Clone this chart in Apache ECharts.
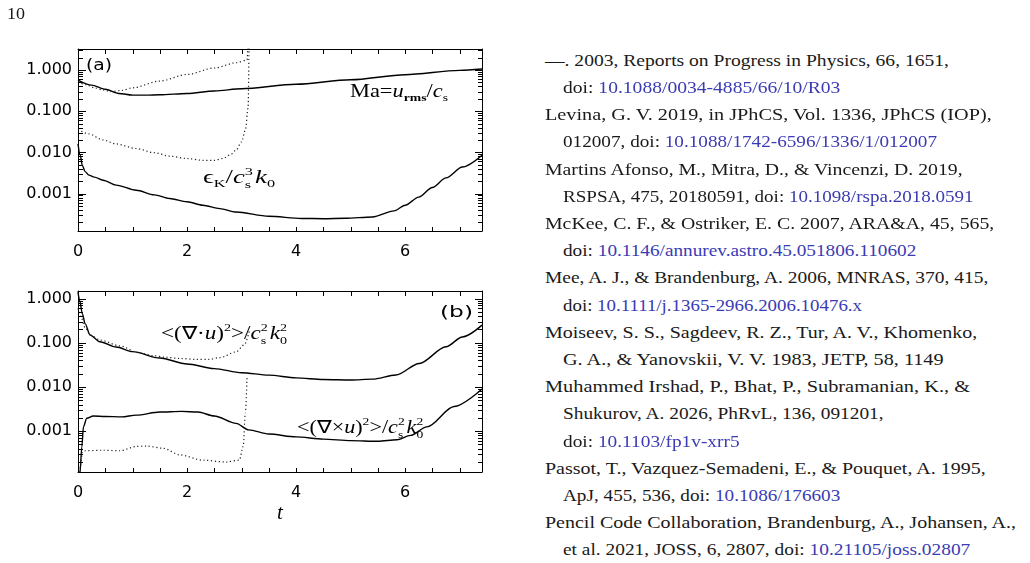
<!DOCTYPE html>
<html>
<head>
<meta charset="utf-8">
<script src="https://cdn.jsdelivr.net/npm/echarts@6/dist/echarts.min.js"></script>
<style>
  body { margin: 0; background: #fff; }
  #page { position: relative; width: 1030px; height: 563px; overflow: hidden; background: #fff; }
  #chart { position: absolute; left: 0; top: 0; width: 500px; height: 563px; }
  .tk { position: absolute; background: #000; z-index: 3; }
  .fit { position: absolute; white-space: nowrap; transform-origin: 0 50%; line-height: 20px; height: 20px; }
  .ref { font-family: "Liberation Serif", serif; font-size: 17px; color: #1a1a1a; }
  .ref .doi { color: #3b3bb3; }
  .lab { font-family: "DejaVu Sans", sans-serif; font-size: 16px; color: #000; }
  .math { font-family: "Liberation Serif", serif; font-size: 18px; color: #000; }
  .math sub { font-size: 11px; line-height: 0; vertical-align: -4px; }
  .math sup { font-size: 11px; line-height: 0; vertical-align: 8px; }
  .math b { font-weight: bold; }
  .ss { display: inline-block; position: relative; width: 7px; height: 0; }
  .ss span { position: absolute; left: 0; font-size: 11px; line-height: 11px; }
  .ss .p { top: -17px; }
  .ss .b { top: -4px; }
</style>
</head>
<body>
<div id="page">
  <div id="chart"></div>
  <div class="fit ref" style="left:7px; top:4px;" data-w="18">10</div>

  <div class="fit lab" style="left:86px; top:55px;" data-w="26">(a)</div>
  <div class="fit math" style="left:350px; top:81px;" data-w="98">Ma=<i>u</i><sub><b>rms</b></sub>/<i>c</i><sub>s</sub></div>
  <div class="fit math" style="left:203px; top:167px;" data-w="72">ϵ<sub>K</sub>/<i>c</i><span class="ss"><span class="p">3</span><span class="b">s</span></span><i>k</i><sub>0</sub></div>

  <div class="fit lab" style="left:440px; top:302px;" data-w="33">(b)</div>
  <div class="fit math" style="left:161px; top:323px;" data-w="128">&lt;(∇·<i>u</i>)<sup>2</sup>&gt;/<i>c</i><span class="ss"><span class="p">2</span><span class="b">s</span></span><i>k</i><span class="ss"><span class="p">2</span><span class="b">0</span></span></div>
  <div class="fit math" style="left:297px; top:417px;" data-w="128">&lt;(∇×<i>u</i>)<sup>2</sup>&gt;/<i>c</i><span class="ss"><span class="p">2</span><span class="b">s</span></span><i>k</i><span class="ss"><span class="p">2</span><span class="b">0</span></span></div>
</div>
<script>
// panel (a): Mach number and kinetic dissipation, solid = run 1, dotted = run 2
const maT = [0, 0.25, 0.5, 0.75, 1.0, 1.25, 1.5, 2.0, 2.5, 3.0, 4.0, 5.0, 6.0, 7.0, 7.41];
const maV = [0.57, 0.43, 0.34, 0.27, 0.246, 0.245, 0.25, 0.27, 0.31, 0.35, 0.45, 0.58, 0.77, 0.98, 1.06];
const maDotT = [0, 0.15, 0.3, 0.45, 0.6, 0.8, 1.0, 1.5, 2.0, 2.5, 2.9, 3.1, 3.13];
const maDotV = [0.52, 0.44, 0.37, 0.33, 0.30, 0.32, 0.37, 0.54, 0.78, 1.12, 1.5, 1.75, 10];
const epsT = [0, 0.04, 0.08, 0.13, 0.2, 0.3, 0.46, 0.7, 1.07, 1.4, 1.68, 2.0, 2.29, 2.6, 2.9, 3.5, 4.1, 4.5, 4.9, 5.4, 5.8, 6.0, 6.25, 6.5, 6.75, 7.05, 7.41];
const epsV = [0.016, 0.0085, 0.0048, 0.0034, 0.0028, 0.0025, 0.0021, 0.0016, 0.0012, 0.00093, 0.00076, 0.00063, 0.00052, 0.00043, 0.000355, 0.00028, 0.000248, 0.000245, 0.00025, 0.00027, 0.00038, 0.00052, 0.00082, 0.0014, 0.0024, 0.0044, 0.0085];
const epsDotT = [0, 0.2, 0.46, 0.7, 1.07, 1.4, 1.68, 2.0, 2.29, 2.5, 2.66, 2.8, 2.9, 3.0, 3.07, 3.12, 3.14];
const epsDotV = [0.036, 0.028, 0.02, 0.016, 0.0124, 0.0098, 0.0081, 0.0071, 0.0064, 0.0064, 0.0071, 0.0088, 0.0113, 0.018, 0.035, 0.12, 10];

// panel (b): divergence and vorticity
const divT = [0, 0.03, 0.08, 0.13, 0.22, 0.4, 0.7, 1.0, 1.5, 2.0, 2.5, 3.0, 3.5, 4.0, 4.5, 5.0, 5.4, 5.83, 6.26, 6.75, 7.05, 7.41];
const divV = [1.4, 0.9, 0.45, 0.27, 0.15, 0.105, 0.08, 0.063, 0.045, 0.033, 0.026, 0.021, 0.0185, 0.016, 0.0147, 0.0143, 0.015, 0.0186, 0.034, 0.081, 0.135, 0.25];
const divDotT = [0, 0.05, 0.13, 0.22, 0.4, 0.77, 1.1, 1.38, 1.6, 1.87, 2.17, 2.4, 2.6, 2.9, 3.05, 3.15];
const divDotV = [0.6, 0.4, 0.22, 0.15, 0.115, 0.085, 0.06, 0.051, 0.047, 0.044, 0.042, 0.042, 0.046, 0.062, 0.09, 0.2];
const curlT = [0, 0.035, 0.07, 0.1, 0.16, 0.28, 0.5, 0.8, 1.07, 1.5, 1.9, 2.2, 2.5, 2.9, 3.13, 3.5, 4.0, 4.5, 5.0, 5.5, 5.85, 6.1, 6.4, 6.9, 7.41];
const curlV = [0.00002, 0.00011, 0.00044, 0.00126, 0.00195, 0.0022, 0.00215, 0.0021, 0.0023, 0.0027, 0.0028, 0.0027, 0.0022, 0.0015, 0.00107, 0.00086, 0.00074, 0.00066, 0.00061, 0.00059, 0.00064, 0.0008, 0.00125, 0.0036, 0.009];
const curlDotT = [0, 0.04, 0.08, 0.12, 0.46, 0.77, 1.07, 1.25, 1.56, 1.87, 2.29, 2.72, 2.96, 3.03, 3.07, 3.1];
const curlDotV = [0.00002, 0.00015, 0.00033, 0.00036, 0.00037, 0.00036, 0.00045, 0.00046, 0.00041, 0.00029, 0.00022, 0.0002, 0.00022, 0.00045, 0.0026, 0.016];

const tMax = 7.41;
const tLabels = [0, 2, 4, 6];
const decades = [0.001, 0.01, 0.1, 1];
const rangeA = [1.23e-4, 3.24];
const rangeB = [1.19e-4, 1.48];

// tick positions for the IDL style frame
let tTicks = [];
for (let t = 0; t <= 7; t += 0.5) tTicks.push(t);
let minors = [];
for (let e = -4; e <= 0; e++) {
  for (let m = 2; m <= 9; m++) minors.push(+(m * Math.pow(10, e)).toPrecision(3));
}

const ink = '#000';
const font = 'DejaVu Sans';
const gridA = { left: 78, top: 49, width: 404, height: 182 };
const gridB = { left: 78, top: 291, width: 404, height: 181 };

function xAxes(grid, name) {
  let base = {
    gridIndex: grid, type: 'value', min: 0, max: tMax,
    splitLine: { show: false },
    axisLine: { show: true, onZero: false, lineStyle: { color: ink, width: 1 } },
    axisTick: { show: false }
  };
  let bottom = Object.assign({}, base, {
    position: 'bottom',
    axisLabel: { show: true, customValues: tLabels, margin: 13, fontFamily: font, fontSize: 16, color: ink }
  });
  if (name) {
    bottom.name = name;
    bottom.nameLocation = 'middle';
    bottom.nameGap = 31;
    bottom.nameTextStyle = { fontFamily: 'Liberation Serif', fontStyle: 'italic', fontSize: 21, color: ink };
  }
  let top = Object.assign({}, base, { position: 'top', axisLabel: { show: false } });
  return [bottom, top];
}

function yAxes(grid, range) {
  let base = {
    gridIndex: grid, type: 'log', logBase: 10, min: range[0], max: range[1],
    splitLine: { show: false },
    axisLine: { show: true, onZero: false, lineStyle: { color: ink, width: 1 } },
    axisTick: { show: false }
  };
  return [
    Object.assign({}, base, {
      position: 'left',
      axisLabel: {
        show: true, customValues: decades, margin: 6, fontFamily: font, fontSize: 16, color: ink,
        formatter: v => v.toFixed(3)
      }
    }),
    Object.assign({}, base, { position: 'right', axisLabel: { show: false } })
  ];
}

function pairs(ts, vs) {
  return ts.map((t, i) => [t, vs[i]]);
}

function curve(ts, vs, xi, yi, dotted) {
  return {
    type: 'line', xAxisIndex: xi, yAxisIndex: yi,
    data: pairs(ts, vs),
    showSymbol: false, smooth: 0.3, smoothMonotone: 'x',
    lineStyle: dotted ? { color: '#222', width: 1.2, type: [1.2, 2.6] } : { color: ink, width: 1.4 },
    silent: true
  };
}

const chart = echarts.init(document.getElementById('chart'));
chart.setOption({
  animation: false,
  grid: [gridA, gridB],
  xAxis: xAxes(0).concat(xAxes(1, 't')),
  yAxis: yAxes(0, rangeA).concat(yAxes(1, rangeB)),
  series: [
    curve(maT, maV, 0, 0, false),
    curve(maDotT, maDotV, 0, 0, true),
    curve(epsT, epsV, 0, 0, false),
    curve(epsDotT, epsDotV, 0, 0, true),
    curve(divT, divV, 2, 2, false),
    curve(divDotT, divDotV, 2, 2, true),
    curve(curlT, curlV, 2, 2, false),
    curve(curlDotT, curlDotV, 2, 2, true)
  ]
});

const page = document.getElementById('page');

// inward ticks on all four sides of a panel
function tick(x, y, w, h) {
  let d = document.createElement('div');
  d.className = 'tk';
  d.style.left = x + 'px';
  d.style.top = y + 'px';
  d.style.width = w + 'px';
  d.style.height = h + 'px';
  page.appendChild(d);
}

function pixelFn(xi, yi, grid, range) {
  let span = Math.log10(range[1] / range[0]);
  return (x, y) => {
    let p = null;
    try { p = chart.convertToPixel({ xAxisIndex: xi, yAxisIndex: yi }, [x, y]); } catch (e) { p = null; }
    if (p && isFinite(p[0]) && isFinite(p[1])) return p;
    // same mapping as the axes if the conversion is unavailable
    return [grid.left + x / tMax * grid.width,
            grid.top + grid.height * Math.log10(range[1] / y) / span];
  };
}

function frameTicks(xi, yi, grid, range) {
  let px = pixelFn(xi, yi, grid, range);
  let xL = grid.left, xR = grid.left + grid.width;
  let yT = grid.top, yB = grid.top + grid.height;
  tTicks.forEach(t => {
    let x = Math.round(px(t, 1)[0]);
    tick(x, yB - 4, 1, 5);
    tick(x, yT, 1, 5);
  });
  let addY = (vals, len) => vals.filter(v => v > range[0] && v < range[1]).forEach(v => {
    let y = Math.round(px(0, v)[1]);
    tick(xL, y, len + 1, 1);
    tick(xR - len, y, len + 1, 1);
  });
  addY(decades, 7);
  addY(minors, 4);
}

frameTicks(0, 0, gridA, rangeA);
frameTicks(2, 2, gridB, rangeB);

// reference list on the right: [text, doi link, indented, right edge in px]
const refLines = [
  ['—. 2003, Reports on Progress in Physics, 66, 1651,', '', 0, 949],
  ['doi: ', '10.1088/0034-4885/66/10/R03', 1, 840],
  ['Levina, G. V. 2019, in JPhCS, Vol. 1336, JPhCS (IOP),', '', 0, 991.7],
  ['012007, doi: ', '10.1088/1742-6596/1336/1/012007', 1, 936.7],
  ['Martins Afonso, M., Mitra, D., & Vincenzi, D. 2019,', '', 0, 962.7],
  ['RSPSA, 475, 20180591, doi: ', '10.1098/rspa.2018.0591', 1, 973.3],
  ['McKee, C. F., & Ostriker, E. C. 2007, ARA&A, 45, 565,', '', 0, 994.3],
  ['doi: ', '10.1146/annurev.astro.45.051806.110602', 1, 916],
  ['Mee, A. J., & Brandenburg, A. 2006, MNRAS, 370, 415,', '', 0, 988.3],
  ['doi: ', '10.1111/j.1365-2966.2006.10476.x', 1, 861.7],
  ['Moiseev, S. S., Sagdeev, R. Z., Tur, A. V., Khomenko,', '', 0, 977.3],
  ['G. A., & Yanovskii, V. V. 1983, JETP, 58, 1149', '', 1, 943.3],
  ['Muhammed Irshad, P., Bhat, P., Subramanian, K., &', '', 0, 970],
  ['Shukurov, A. 2026, PhRvL, 136, 091201,', '', 1, 883.3],
  ['doi: ', '10.1103/fp1v-xrr5', 1, 739.3],
  ['Passot, T., Vazquez-Semadeni, E., & Pouquet, A. 1995,', '', 0, 985.7],
  ['ApJ, 455, 536, doi: ', '10.1086/176603', 1, 840],
  ['Pencil Code Collaboration, Brandenburg, A., Johansen, A.,', '', 0, 1016],
  ['et al. 2021, JOSS, 6, 2807, doi: ', '10.21105/joss.02807', 1, 970]
];

refLines.forEach((r, i) => {
  let left = r[2] ? 562.7 : 545;
  let div = document.createElement('div');
  div.className = 'fit ref';
  div.style.left = left + 'px';
  div.style.top = (60.7 + 27.2 * i - 10) + 'px';
  div.dataset.w = r[3] - left;
  div.appendChild(document.createTextNode(r[0]));
  if (r[1]) {
    let a = document.createElement('span');
    a.className = 'doi';
    a.textContent = r[1];
    div.appendChild(a);
  }
  page.appendChild(div);
});

document.querySelectorAll('.fit').forEach(el => {
  let w = el.getBoundingClientRect().width;
  let target = parseFloat(el.dataset.w);
  if (w > 0 && target) el.style.transform = 'scaleX(' + (target / w).toFixed(4) + ')';
});
</script>
</body>
</html>
